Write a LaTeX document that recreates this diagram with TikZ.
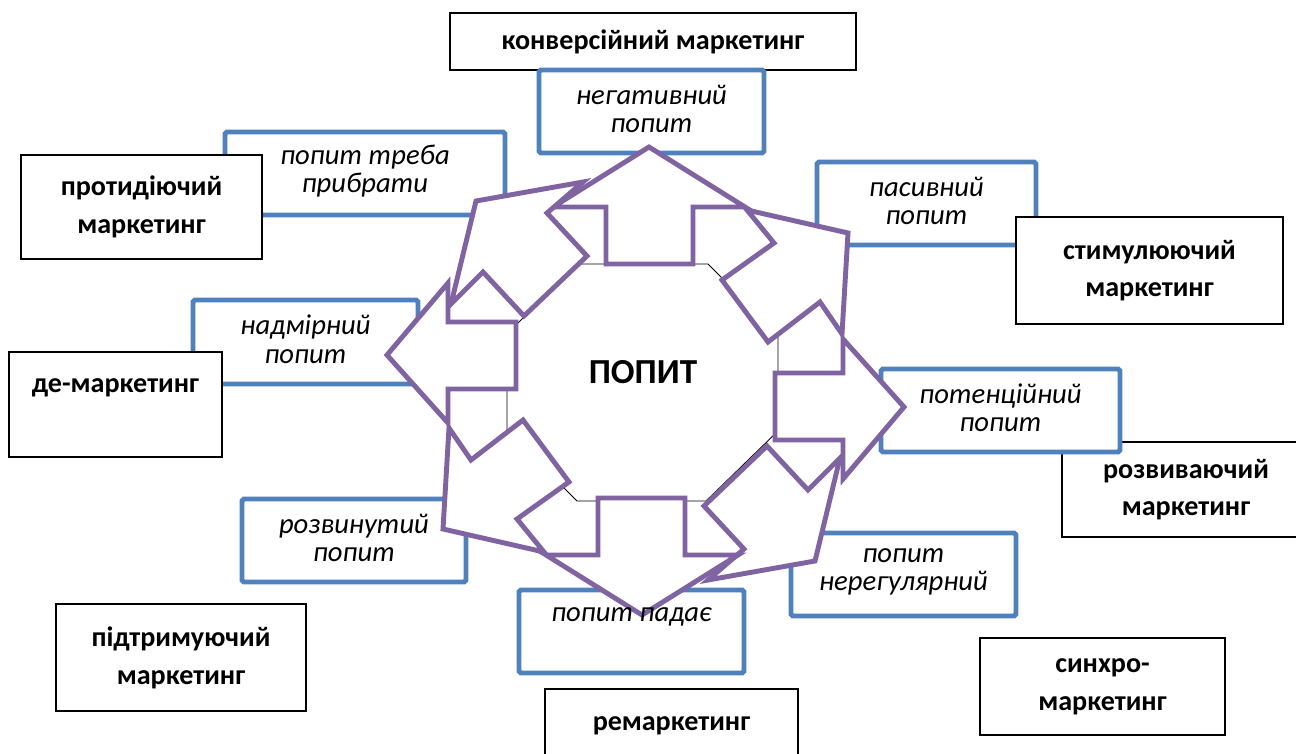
\documentclass[tikz,border=0pt]{standalone}
\usepackage{fontspec}
\setmainfont{Carlito}
\usepackage{tikz}

\definecolor{boxblue}{RGB}{79,129,189}
\definecolor{arrowviolet}{RGB}{128,100,162}

\tikzset{
  mkt/.style={draw=black, line width=0.8pt, fill=white, inner sep=0pt, align=center,
    font=\bfseries\fontsize{16}{21.5}\selectfont},
  dem/.style={draw=boxblue, line width=2.8pt, fill=white, rounded corners=1pt, inner sep=0pt},
  demtext/.style={align=center, inner sep=0pt, yshift=1.6pt, font=\itshape\fontsize{16.3}{16}\selectfont},
  bigarrow/.style={draw=arrowviolet, line width=2.8pt, fill=white, line join=miter}
}

\begin{document}
\begin{tikzpicture}[x=0.02cm, y=-0.02cm]
  \useasboundingbox (0,0) rectangle (1296,754);

  % Cajas de marketing (debajo)
  \node[mkt, minimum width=8.12cm, minimum height=1.14cm] (konv) at (653,41.5) {конверсійний маркетинг};
  \node[mkt, minimum width=4.96cm, minimum height=1.90cm] (rozv) at (1186,489.5) {розвиваючий\\маркетинг};

  % Cajas de demanda
  \node[dem, minimum width=4.50cm, minimum height=1.66cm] (neg) at (651.5,111.5) {};
  \node[dem, minimum width=5.60cm, minimum height=1.66cm] (prybr) at (365,173.5) {};
  \node[dem, minimum width=4.38cm, minimum height=1.66cm] (pas) at (926.5,203.5) {};
  \node[dem, minimum width=4.50cm, minimum height=1.68cm] (nadm) at (305.5,342) {};
  \node[dem, minimum width=4.78cm, minimum height=1.66cm] (poten) at (1000.5,410.5) {};
  \node[dem, minimum width=4.48cm, minimum height=1.66cm] (rozvyn) at (354,540.5) {};
  \node[dem, minimum width=4.50cm, minimum height=1.66cm] (nereg) at (903.5,574.5) {};
  \node[dem, minimum width=4.50cm, minimum height=1.66cm] (pad) at (631.5,631.5) {};

  % Cajas de marketing (encima)
  \node[mkt, minimum width=4.82cm, minimum height=2.08cm] (protyd) at (141.5,207) {протидіючий\\маркетинг};
  \node[mkt, minimum width=5.34cm, minimum height=2.14cm] (stym) at (1149.5,270.5) {стимулюючий\\маркетинг};
  \node[mkt, minimum width=4.26cm, minimum height=2.10cm] (demkt) at (115.5,404.5) {де-маркетинг\\~};
  \node[mkt, minimum width=5.00cm, minimum height=2.14cm] (pidtr) at (181,657.5) {підтримуючий\\маркетинг};
  \node[mkt, minimum width=4.90cm, minimum height=1.94cm] (synchro) at (1102.5,686.5) {синхро-\\маркетинг};
  \node[mkt, minimum width=5.06cm, minimum height=2.12cm] (remkt) at (671.5,742) {ремаркетинг\\~};

  % Octógono central
  \draw[line width=0.5pt] (577,264) -- (708,264) -- (778,334) -- (778,431) -- (706,501)
    -- (577,501) -- (507,431) -- (507,334) -- cycle;
  \node[font=\bfseries\fontsize{20}{24}\selectfont] (popyt) at (643,372) {ПОПИТ};

  % Flechas
  \draw[bigarrow] (606,264) -- (606,207) -- (553,207) -- (649,147) -- (745,207) -- (693,207) -- (693,264) -- cycle;
  \draw[bigarrow] (722,280) -- (774,243) -- (747,210) -- (848,233) -- (842,334) -- (820,302) -- (768,342) -- cycle;
  \draw[bigarrow] (775,373) -- (843,373) -- (843,339) -- (904,407) -- (843,479) -- (843,440) -- (775,440) -- cycle;
  \draw[bigarrow] (704,506) -- (767,446) -- (808,490) -- (840,458) -- (815,561) -- (708,580) -- (744,549) -- cycle;
  \draw[bigarrow] (685,498) -- (685,555) -- (738,555) -- (642,615) -- (546,555) -- (598,555) -- (598,498) -- cycle;
  \draw[bigarrow] (569,482) -- (517,519) -- (544,552) -- (443,529) -- (449,428) -- (471,460) -- (523,420) -- cycle;
  \draw[bigarrow] (516,322) -- (448,322) -- (448,283) -- (387,355) -- (448,423) -- (448,389) -- (516,389) -- cycle;
  \draw[bigarrow] (587,256) -- (524,316) -- (483,272) -- (451,304) -- (476,201) -- (583,182) -- (547,213) -- cycle;

  % Textos de demanda
  \node[demtext] (neg-t) at (neg) {негативний\\попит};
  \node[demtext] (prybr-t) at (prybr) {попит треба\\прибрати};
  \node[demtext] (pas-t) at (pas) {пасивний\\попит};
  \node[demtext] (nadm-t) at (nadm) {надмірний\\попит};
  \node[demtext] (poten-t) at (poten) {потенційний\\попит};
  \node[demtext] (rozvyn-t) at (rozvyn) {розвинутий\\попит};
  \node[demtext] (nereg-t) at (nereg) {попит\\нерегулярний};
  \node[demtext] (pad-t) at (pad) {попит падає\\~};
\end{tikzpicture}
\end{document}
